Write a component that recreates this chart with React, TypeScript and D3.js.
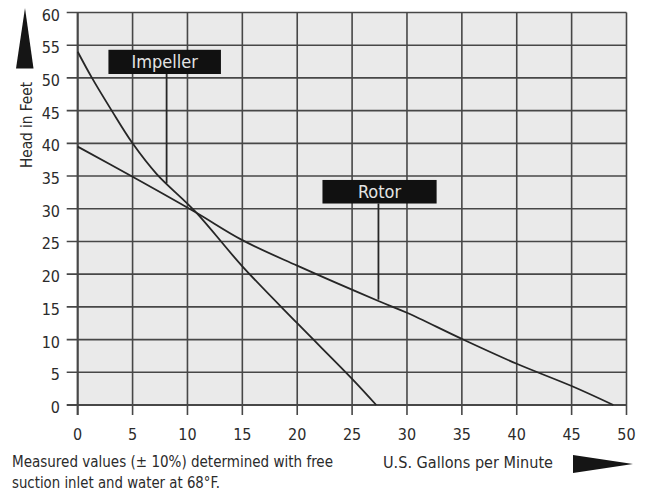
import React, { useEffect, useRef } from "react";
import * as d3 from "d3";

// pump curves (U.S. gallons per minute vs head in feet)
const impellerGpm = [0, 1.3, 3.1, 5, 7.2, 10.7, 15, 20, 25, 27.2];
const impellerHead = [54, 50, 45, 40, 35.3, 29.6, 21.2, 12.5, 4, 0];

const rotorGpm = [0, 5, 10.7, 15, 20, 27.4, 30, 35, 40, 45, 48.8];
const rotorHead = [39.5, 34.9, 29.5, 25.2, 21.3, 15.9, 14.1, 10.1, 6.3, 2.9, 0];

const xTicks = [0, 5, 10, 15, 20, 25, 30, 35, 40, 45, 50];
const yTicks = [0, 5, 10, 15, 20, 25, 30, 35, 40, 45, 50, 55, 60];

const WIDTH = 646;
const HEIGHT = 493;
const FONT = "'Liberation Sans Narrow', 'DejaVu Sans Condensed', 'Roboto', sans-serif";

const App: React.FC = () => {
  const svgRef = useRef<SVGSVGElement>(null);

  useEffect(() => {
    const svg = d3.select(svgRef.current);
    svg.selectAll("*").remove();

    const x = d3.scaleLinear().domain([0, 50]).range([77.7, 626.5]);
    const y = d3.scaleLinear().domain([0, 60]).range([405, 12.5]);

    const gridColor = "#474747";
    const inkColor = "#2b2b2b";

    // plot background
    svg.append("rect")
      .attr("x", x(0))
      .attr("y", y(60))
      .attr("width", x(50) - x(0))
      .attr("height", y(0) - y(60))
      .attr("fill", "#eaeaea");

    // horizontal grid lines (extend left as ticks)
    svg.append("g")
      .selectAll("line")
      .data(yTicks)
      .enter()
      .append("line")
      .attr("x1", x(0) - 11)
      .attr("x2", x(50))
      .attr("y1", d => y(d))
      .attr("y2", d => y(d))
      .attr("stroke", gridColor)
      .attr("stroke-width", d => (d === 0 ? 2.2 : 1.6));

    // vertical grid lines (extend below as ticks)
    svg.append("g")
      .selectAll("line")
      .data(xTicks)
      .enter()
      .append("line")
      .attr("x1", d => x(d))
      .attr("x2", d => x(d))
      .attr("y1", y(60))
      .attr("y2", y(0) + 10)
      .attr("stroke", gridColor)
      .attr("stroke-width", d => (d === 0 ? 2.2 : 1.6));

    // tick labels
    svg.append("g")
      .selectAll("text")
      .data(yTicks)
      .enter()
      .append("text")
      .attr("x", 60)
      .attr("y", d => y(d) + 8)
      .attr("text-anchor", "end")
      .style("font-family", FONT)
      .style("font-size", "16px")
      .style("fill", inkColor)
      .text(d => d);

    svg.append("g")
      .selectAll("text")
      .data(xTicks)
      .enter()
      .append("text")
      .attr("x", d => x(d))
      .attr("y", 440)
      .attr("text-anchor", "middle")
      .style("font-family", FONT)
      .style("font-size", "16px")
      .style("fill", inkColor)
      .text(d => d);

    // curves
    const line = d3.line<[number, number]>()
      .x(d => x(d[0]))
      .y(d => y(d[1]))
      .curve(d3.curveCatmullRom.alpha(0.5));

    const curves = [
      impellerGpm.map((g, i) => [g, impellerHead[i]] as [number, number]),
      rotorGpm.map((g, i) => [g, rotorHead[i]] as [number, number]),
    ];

    svg.append("g")
      .selectAll("path")
      .data(curves)
      .enter()
      .append("path")
      .attr("d", d => line(d))
      .attr("fill", "none")
      .attr("stroke", "#262626")
      .attr("stroke-width", 1.8);

    // curve labels with leader lines
    const callouts = [
      { text: "Impeller", x0: 2.8, x1: 13.05, top: 54.3, bottom: 50.6, leaderX: 8.1, leaderEnd: 33.9 },
      { text: "Rotor", x0: 22.3, x1: 32.7, top: 34.4, bottom: 30.8, leaderX: 27.4, leaderEnd: 16.1 },
    ];

    const callout = svg.append("g")
      .selectAll("g")
      .data(callouts)
      .enter()
      .append("g");

    callout.append("line")
      .attr("x1", d => x(d.leaderX))
      .attr("x2", d => x(d.leaderX))
      .attr("y1", d => y(d.bottom))
      .attr("y2", d => y(d.leaderEnd))
      .attr("stroke", "#262626")
      .attr("stroke-width", 1.8);

    callout.append("rect")
      .attr("x", d => x(d.x0))
      .attr("y", d => y(d.top))
      .attr("width", d => x(d.x1) - x(d.x0))
      .attr("height", d => y(d.bottom) - y(d.top))
      .attr("fill", "#111");

    callout.append("text")
      .attr("x", d => (x(d.x0) + x(d.x1)) / 2)
      .attr("y", d => y(d.bottom) - 5.5)
      .attr("text-anchor", "middle")
      .style("font-family", FONT)
      .style("font-size", "18px")
      .style("fill", "#e4e4e4")
      .text(d => d.text);

    // axis titles and arrows
    svg.append("text")
      .attr("transform", "translate(32, 125) rotate(-90)")
      .attr("text-anchor", "middle")
      .attr("textLength", 86)
      .attr("lengthAdjust", "spacingAndGlyphs")
      .style("font-family", FONT)
      .style("font-size", "16px")
      .style("fill", inkColor)
      .text("Head in Feet");

    svg.append("path")
      .attr("d", "M25,8 L16,68.5 L33.5,68.5 Z")
      .attr("fill", "#151515");

    svg.append("text")
      .attr("x", 383)
      .attr("y", 468)
      .attr("textLength", 170)
      .attr("lengthAdjust", "spacingAndGlyphs")
      .style("font-family", FONT)
      .style("font-size", "16px")
      .style("fill", inkColor)
      .text("U.S. Gallons per Minute");

    svg.append("path")
      .attr("d", "M573,455 L633,464 L573,473 Z")
      .attr("fill", "#151515");

    // footnote
    const notes = [
      { text: "Measured values (\u00b1 10%) determined with free", y: 467, length: 321 },
      { text: "suction inlet and water at 68\u00b0F.", y: 488, length: 208 },
    ];

    svg.append("g")
      .selectAll("text")
      .data(notes)
      .enter()
      .append("text")
      .attr("x", 12)
      .attr("y", d => d.y)
      .attr("textLength", d => d.length)
      .attr("lengthAdjust", "spacingAndGlyphs")
      .style("font-family", FONT)
      .style("font-size", "15.5px")
      .style("fill", inkColor)
      .text(d => d.text);
  }, []);

  return (
    <svg
      ref={svgRef}
      width={WIDTH}
      height={HEIGHT}
      style={{ position: "absolute", left: 0, top: 0, background: "#fff" }}
    />
  );
};

export default App;
